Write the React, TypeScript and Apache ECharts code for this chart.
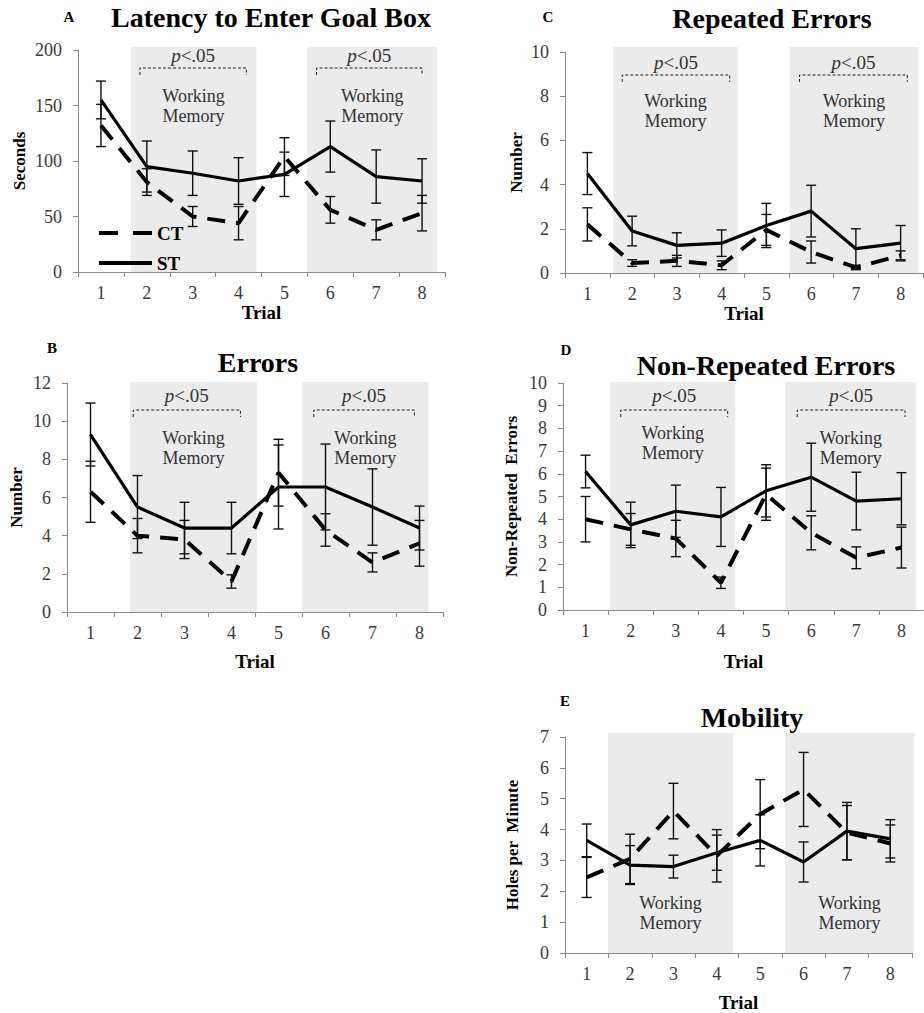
import React, { useEffect, useRef } from "react";
import * as echarts from "echarts";

// ---------- data ----------
const trials = ["1", "2", "3", "4", "5", "6", "7", "8"];

const latencyST = [155, 95, 89, 82, 88, 113, 86, 82];
const latencySTErr = [17, 23, 20, 21, 20, 23, 24, 20];
const latencyCT = [132, 81, 50, 44, 104, 56, 38, 53];
const latencyCTErr = [19, 12, 9, 15, 17, 12, 9, 16];

const errorsST = [9.3, 5.5, 4.4, 4.4, 6.55, 6.55, 5.5, 4.4];
const errorsSTErr = [1.65, 1.65, 1.35, 1.35, 2.2, 2.25, 2.0, 1.15];
const errorsCT = [6.3, 4.0, 3.8, 1.6, 7.3, 4.3, 2.6, 3.6];
const errorsCTErr = [1.6, 0.9, 1.0, 0.35, 1.75, 0.85, 0.5, 1.2];

const repeatedST = [4.5, 1.9, 1.25, 1.35, 2.15, 2.8, 1.1, 1.35];
const repeatedSTErr = [0.95, 0.67, 0.57, 0.6, 1.0, 1.17, 0.9, 0.8];
const repeatedCT = [2.2, 0.45, 0.55, 0.35, 1.95, 0.95, 0.25, 0.8];
const repeatedCTErr = [0.75, 0.15, 0.25, 0.2, 0.7, 0.5, 0.1, 0.2];

const nonRepeatedST = [6.1, 3.75, 4.35, 4.1, 5.25, 5.85, 4.8, 4.9];
const nonRepeatedSTErr = [0.72, 1.0, 1.15, 1.3, 1.15, 1.5, 1.27, 1.15];
const nonRepeatedCT = [4.0, 3.55, 3.15, 1.2, 5.1, 3.4, 2.3, 2.75];
const nonRepeatedCTErr = [1.0, 0.7, 0.8, 0.25, 1.15, 0.75, 0.48, 0.9];

const mobilityST = [3.65, 2.85, 2.8, 3.25, 3.65, 2.95, 3.95, 3.7];
const mobilitySTErr = [0.53, 0.63, 0.37, 0.57, 0.83, 0.65, 0.93, 0.62];
const mobilityCT = [2.45, 3.05, 4.6, 3.15, 4.5, 5.3, 3.9, 3.55];
const mobilityCTErr = [0.65, 0.8, 0.9, 0.85, 1.12, 1.2, 0.88, 0.6];

const seriesNames = ["CT", "ST"];
const shadeLabel = "Working\nMemory";
const sigLabel = "{i|p}<.05";

// ---------- layout ----------
const SERIF = "Liberation Serif";
const panels = [
  {
    letter: "A", title: "Latency to Enter Goal Box", yName: "Seconds",
    grid: { left: 78, top: 50, width: 367, height: 222 },
    yMax: 200, yInterval: 50, yNameGap: 50, xNameGap: 30,
    titlePos: [271, 17], letterPos: [69, 17],
    st: latencyST, stErr: latencySTErr, ct: latencyCT, ctErr: latencyCTErr,
    shades: [[1.65, 4.39, 1.85, 4.17], [5.5, 8.33, 5.7, 8.0]],
    bracket: true, shadeTop: -3, pY: 5, bY: 18, wmY: [36, 36],
  },
  {
    letter: "C", title: "Repeated Errors", yName: "Number",
    grid: { left: 565, top: 52, width: 358, height: 221 },
    yMax: 10, yInterval: 2, yNameGap: 40, xNameGap: 31,
    titlePos: [772, 18], letterPos: [548, 17],
    st: repeatedST, stErr: repeatedSTErr, ct: repeatedCT, ctErr: repeatedCTErr,
    shades: [[1.58, 4.36, 1.78, 4.18], [5.52, 8.4, 5.74, 8.15]],
    bracket: true, shadeTop: -5, pY: 10, bY: 23, wmY: [39, 39],
  },
  {
    letter: "B", title: "Errors", yName: "Number",
    grid: { left: 67, top: 383, width: 376, height: 229 },
    yMax: 12, yInterval: 2, yNameGap: 42, xNameGap: 40,
    titlePos: [258, 362], letterPos: [52, 348],
    st: errorsST, stErr: errorsSTErr, ct: errorsCT, ctErr: errorsCTErr,
    shades: [[1.84, 4.54, 1.91, 4.19], [5.5, 8.19, 5.75, 7.89]],
    bracket: true, shadeTop: -1, pY: 12, bY: 27, wmY: [45, 45],
  },
  {
    letter: "D", title: "Non-Repeated Errors", yName: "Non-Repeated  Errors",
    grid: { left: 563, top: 383, width: 362, height: 227 },
    yMax: 10, yInterval: 1, yNameGap: 43, xNameGap: 42,
    titlePos: [766, 365], letterPos: [566, 350],
    st: nonRepeatedST, stErr: nonRepeatedSTErr, ct: nonRepeatedCT, ctErr: nonRepeatedCTErr,
    shades: [[1.54, 4.32, 1.78, 4.15], [5.43, 8.32, 5.69, 8.08]],
    bracket: true, shadeTop: -1, pY: 12, bY: 27, wmY: [40, 45],
  },
  {
    letter: "E", title: "Mobility", yName: "Holes per  Minute",
    grid: { left: 565, top: 737, width: 347, height: 216 },
    yMax: 7, yInterval: 1, yNameGap: 44, xNameGap: 40,
    titlePos: [752, 717], letterPos: [565, 701],
    st: mobilityST, stErr: mobilitySTErr, ct: mobilityCT, ctErr: mobilityCTErr,
    shades: [[1.49, 4.37, 0, 0], [5.57, 8.55, 0, 0]],
    bracket: false, shadeTop: -4, pY: 0, bY: 0, wmY: [156, 156],
  },
];

const legendIcons: Record<string, string> = {
  CT: "path://M0,0h19v4h-19z M34,0h19v4h-19z",
  ST: "path://M0,0h53v4h-53z",
};

function buildOption() {
  const grid: any[] = [];
  const xAxis: any[] = [];
  const yAxis: any[] = [];
  const series: any[] = [];
  const graphic: any[] = [];
  const axisColor = "#8a8a8a";
  const labelColor = "#3a3a3a";

  panels.forEach((p, gi) => {
    grid.push({ ...p.grid, containLabel: false });
    xAxis.push({
      type: "category", gridIndex: gi, data: trials, boundaryGap: true,
      name: "Trial", nameLocation: "middle", nameGap: p.xNameGap,
      nameTextStyle: { fontFamily: SERIF, fontWeight: "bold", fontSize: 19, color: "#000" },
      axisLine: { show: true, lineStyle: { color: axisColor, width: 1 } },
      axisTick: { show: true, length: 5, lineStyle: { color: axisColor } },
      axisLabel: { fontFamily: SERIF, fontSize: 18, color: labelColor, margin: 12 },
      splitLine: { show: false },
    });
    xAxis.push({ type: "value", gridIndex: gi, min: 0.5, max: 8.5, show: false });
    yAxis.push({
      type: "value", gridIndex: gi, min: 0, max: p.yMax, interval: p.yInterval,
      name: p.yName, nameLocation: "middle", nameGap: p.yNameGap, nameRotate: 90,
      nameTextStyle: { fontFamily: SERIF, fontWeight: "bold", fontSize: 17, color: "#000" },
      axisLine: { show: true, lineStyle: { color: axisColor, width: 1 } },
      axisTick: { show: true, length: 5, lineStyle: { color: axisColor } },
      axisLabel: { fontFamily: SERIF, fontSize: 18, color: labelColor, margin: 16 },
      splitLine: { show: false },
    });
    const xCat = gi * 2;
    const xVal = gi * 2 + 1;

    series.push({
      type: "custom", name: "shade-" + p.letter, xAxisIndex: xVal, yAxisIndex: gi,
      silent: true, z: 1, clip: false,
      encode: { x: [0, 1] },
      data: p.shades,
      renderItem: (params: any, api: any) => {
        const x0 = api.value(0), x1 = api.value(1);
        const b0 = api.value(2), b1 = api.value(3);
        const tl = api.coord([x0, p.yMax]);
        const br = api.coord([x1, 0]);
        const top = tl[1] + p.shadeTop;
        const children: any[] = [
          {
            type: "rect",
            shape: { x: tl[0], y: top, width: br[0] - tl[0], height: br[1] - top },
            style: { fill: "#ebebeb" },
          },
        ];
        const gTop = tl[1];
        const mid = (tl[0] + br[0]) / 2;
        children.push({
          type: "text",
          style: {
            text: shadeLabel, x: mid, y: gTop + p.wmY[params.dataIndex],
            align: "center", verticalAlign: "top", fontFamily: SERIF, fontSize: 18,
            lineHeight: 20, fill: "#333",
          },
        });
        if (p.bracket) {
          const l = api.coord([b0, 0])[0];
          const r = api.coord([b1, 0])[0];
          const by = gTop + p.bY;
          children.push({
            type: "polyline",
            shape: { points: [[l, by + 7], [l, by], [r, by], [r, by + 7]] },
            style: { stroke: "#222", lineWidth: 1, lineDash: [3, 2], fill: null },
          });
          children.push({
            type: "text",
            style: {
              text: sigLabel, x: (l + r) / 2, y: gTop + p.pY,
              align: "center", verticalAlign: "middle",
              fontFamily: SERIF, fontSize: 19, fill: "#333",
              rich: {
                i: { fontFamily: SERIF, fontSize: 19, fontStyle: "italic", fill: "#333" },
              },
            },
          });
        }
        return { type: "group", children };
      },
    });

    const groups = [
      { name: seriesNames[0], vals: p.ct, errs: p.ctErr, dashed: true },
      { name: seriesNames[1], vals: p.st, errs: p.stErr, dashed: false },
    ];
    groups.forEach((g) => {
      series.push({
        type: "line", name: g.name, xAxisIndex: xCat, yAxisIndex: gi,
        data: g.vals, symbol: "none", z: 3,
        lineStyle: g.dashed
          ? { color: "#000", width: 4, type: [18, 11] }
          : { color: "#000", width: 3.2, type: "solid" },
        itemStyle: { color: "#000" },
      });
      series.push({
        type: "custom", name: g.name + " error", xAxisIndex: xCat, yAxisIndex: gi,
        z: 4, silent: true,
        encode: { x: 0, y: 1 },
        data: g.vals.map((v, i) => [i, v, g.errs[i]]),
        renderItem: (params: any, api: any) => {
          const i = api.value(0), m = api.value(1), e = api.value(2);
          const hi = api.coord([i, m + e]);
          const lo = api.coord([i, m - e]);
          const w = 5;
          const st = { stroke: "#111", lineWidth: 1.4 };
          return {
            type: "group",
            children: [
              { type: "line", shape: { x1: hi[0], y1: hi[1], x2: lo[0], y2: lo[1] }, style: st },
              { type: "line", shape: { x1: hi[0] - w, y1: hi[1], x2: hi[0] + w, y2: hi[1] }, style: st },
              { type: "line", shape: { x1: lo[0] - w, y1: lo[1], x2: lo[0] + w, y2: lo[1] }, style: st },
            ],
          };
        },
      });
    });

    graphic.push({
      type: "text", x: p.titlePos[0], y: p.titlePos[1],
      style: {
        text: p.title, align: "center", verticalAlign: "middle",
        fontFamily: SERIF, fontSize: 28, fontWeight: "bold", fill: "#000",
      },
    });
    graphic.push({
      type: "text", x: p.letterPos[0], y: p.letterPos[1],
      style: {
        text: p.letter, align: "center", verticalAlign: "middle",
        fontFamily: SERIF, fontSize: 15, fontWeight: "bold", fill: "#000",
      },
    });
  });

  return {
    animation: false,
    backgroundColor: "#fff",
    grid, xAxis, yAxis, series, graphic,
    legend: {
      data: seriesNames.map((n) => ({ name: n, icon: legendIcons[n], itemStyle: { color: "#000" } })),
      orient: "vertical", left: 94, top: 218,
      itemWidth: 53, itemHeight: 4, itemGap: 10, itemStyle: { color: "#000" },
      selectedMode: false,
      textStyle: { fontFamily: SERIF, fontSize: 19, fontWeight: "bold", color: "#000", lineHeight: 20 },
    },
  };
}

export default function App() {
  const ref = useRef<HTMLDivElement>(null);
  useEffect(() => {
    if (!ref.current) return;
    const chart = echarts.init(ref.current, null, { renderer: "svg" });
    chart.setOption(buildOption() as any);
    return () => chart.dispose();
  }, []);
  return (
    <div
      ref={ref}
      style={{ position: "absolute", left: 0, top: 0, width: 924, height: 1013, background: "#fff" }}
    />
  );
}
